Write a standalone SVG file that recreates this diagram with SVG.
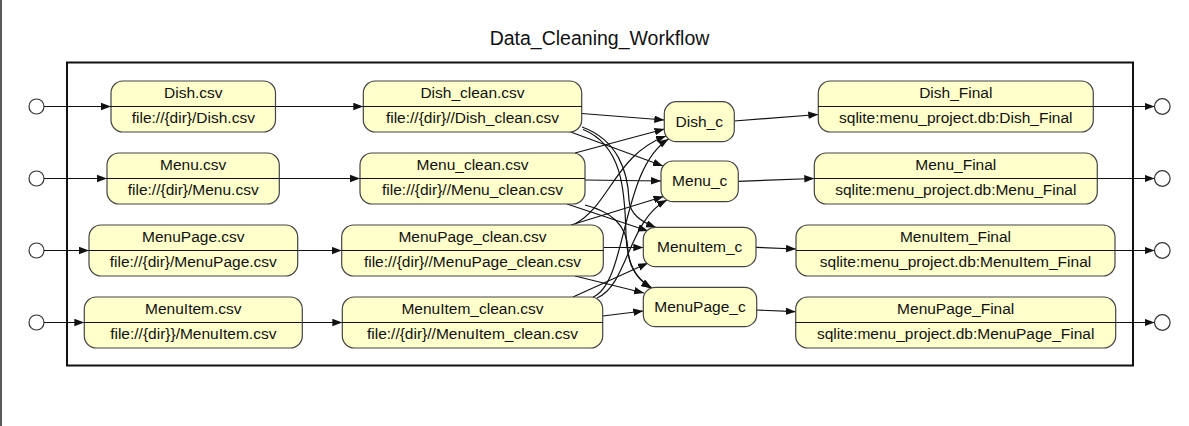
<svg xmlns="http://www.w3.org/2000/svg" width="1189" height="426" viewBox="0 0 1189 426">
<style>
.bg{fill:#ffffff}
.frame{fill:none;stroke:#111;stroke-width:2}
.n{fill:#ffffcc;stroke:#444;stroke-width:1.2}
.div{stroke:#111;stroke-width:1.2}
.t{font-family:"Liberation Sans",Arial,sans-serif;font-size:15.5px;fill:#111;text-anchor:middle}
.title{font-family:"Liberation Sans",Arial,sans-serif;font-size:19.5px;fill:#111;text-anchor:middle}
.e{fill:none;stroke:#111;stroke-width:1.2;marker-end:url(#ah)}
.port{fill:#fff;stroke:#333;stroke-width:1.2}
</style>
<defs>
<marker id="ah" markerUnits="userSpaceOnUse" markerWidth="11" markerHeight="8" refX="10" refY="3.75" orient="auto">
<path d="M0,0 L10,3.75 L0,7.5 z" fill="#111"/>
</marker>
</defs>
<rect class="bg" x="0" y="0" width="1189" height="426"/>
<line x1="1" y1="0" x2="1" y2="426" stroke="#222" stroke-width="1.5"/>
<text class="title" x="599.5" y="45">Data_Cleaning_Workflow</text>
<rect class="frame" x="67" y="62.5" width="1066" height="303"/>

<g id="connectors">
<path class="e" d="M44,106.5 H111"/>
<path class="e" d="M44,178.5 H107"/>
<path class="e" d="M44,250.5 H89"/>
<path class="e" d="M44,322.5 H84.3"/>
<path class="e" d="M275.5,106.5 H363.3"/>
<path class="e" d="M279.3,178.5 H360"/>
<path class="e" d="M297.7,250.5 H341.7"/>
<path class="e" d="M302.3,322.5 H342.3"/>
<path class="e" d="M581.7,113.5 L664.3,120"/>
<path class="e" d="M570,131.7 L663,166"/>
<path class="e" d="M582,127 C618,140 628,172 629,200 C630,215 642,222 656,227.5"/>
<path class="e" d="M583,129.5 C622,145 625,190 626,235 C627,265 636,278 651,288.5"/>
<path class="e" d="M575,153 L664.5,129"/>
<path class="e" d="M585,180 L661,181"/>
<path class="e" d="M567,204 L648,231"/>
<path class="e" d="M585,205 C612,212 627,225 628,250 C629,268 638,280 652,288"/>
<path class="e" d="M575,224 C610,205 615,155 666,136"/>
<path class="e" d="M571,225 L663.5,196.5"/>
<path class="e" d="M603.3,247.5 L643.3,247.5"/>
<path class="e" d="M575,276 L644,293"/>
<path class="e" d="M593,297 C628,282 620,170 668.5,139"/>
<path class="e" d="M597,298 C628,285 628,220 667,200"/>
<path class="e" d="M573,297 L648,263"/>
<path class="e" d="M602.7,316 L643.3,311"/>
<path class="e" d="M734.3,121 L818.3,114.5"/>
<path class="e" d="M738.3,181.3 L814.3,178.5"/>
<path class="e" d="M756,247.3 L796,249"/>
<path class="e" d="M756.7,310 L795.7,311.7"/>
<path class="e" d="M1093.3,106.5 H1154.5"/>
<path class="e" d="M1097.3,178.5 H1154.5"/>
<path class="e" d="M1115,250.5 H1154.5"/>
<path class="e" d="M1115.7,322.5 H1154.5"/>
</g>

<g id="in_dish"><circle class="port" cx="36.5" cy="106.5" r="7.5"/></g>
<g id="in_menu"><circle class="port" cx="36.5" cy="178.5" r="7.5"/></g>
<g id="in_menupage"><circle class="port" cx="36.5" cy="250.5" r="7.5"/></g>
<g id="in_menuitem"><circle class="port" cx="36.5" cy="322.5" r="7.5"/></g>

<g id="Dish_csv"><rect class="n" x="111" y="81" width="164.5" height="51" rx="12"/><line class="div" x1="111" y1="106.5" x2="275.5" y2="106.5"/><text class="t" x="193.3" y="98">Dish.csv</text><text class="t" x="193.3" y="122.7">file://{dir}/Dish.csv</text></g>
<g id="Menu_csv"><rect class="n" x="107" y="153" width="172.3" height="51" rx="12"/><line class="div" x1="107" y1="178.5" x2="279.3" y2="178.5"/><text class="t" x="193.2" y="170">Menu.csv</text><text class="t" x="193.2" y="194.7">file://{dir}/Menu.csv</text></g>
<g id="MenuPage_csv"><rect class="n" x="89" y="225" width="208.7" height="51" rx="12"/><line class="div" x1="89" y1="250.5" x2="297.7" y2="250.5"/><text class="t" x="193.3" y="242">MenuPage.csv</text><text class="t" x="193.3" y="266.7">file://{dir}/MenuPage.csv</text></g>
<g id="MenuItem_csv"><rect class="n" x="84.3" y="297" width="218" height="51" rx="12"/><line class="div" x1="84.3" y1="322.5" x2="302.3" y2="322.5"/><text class="t" x="193.3" y="314">MenuItem.csv</text><text class="t" x="193.3" y="338.7">file://{dir}}/MenuItem.csv</text></g>

<g id="Dish_clean_csv"><rect class="n" x="363.3" y="81" width="218.4" height="51" rx="12"/><line class="div" x1="363.3" y1="106.5" x2="581.7" y2="106.5"/><text class="t" x="472.5" y="98">Dish_clean.csv</text><text class="t" x="472.5" y="122.7">file://{dir}//Dish_clean.csv</text></g>
<g id="Menu_clean_csv"><rect class="n" x="360" y="153" width="225" height="51" rx="12"/><line class="div" x1="360" y1="178.5" x2="585" y2="178.5"/><text class="t" x="472.5" y="170">Menu_clean.csv</text><text class="t" x="472.5" y="194.7">file://{dir}//Menu_clean.csv</text></g>
<g id="MenuPage_clean_csv"><rect class="n" x="341.7" y="225" width="261.6" height="51" rx="12"/><line class="div" x1="341.7" y1="250.5" x2="603.3" y2="250.5"/><text class="t" x="472.5" y="242">MenuPage_clean.csv</text><text class="t" x="472.5" y="266.7">file://{dir}//MenuPage_clean.csv</text></g>
<g id="MenuItem_clean_csv"><rect class="n" x="342.3" y="297" width="260.4" height="51" rx="12"/><line class="div" x1="342.3" y1="322.5" x2="602.7" y2="322.5"/><text class="t" x="472.5" y="314">MenuItem_clean.csv</text><text class="t" x="472.5" y="338.7">file://{dir}//MenuItem_clean.csv</text></g>

<g id="Dish_c"><rect class="n" x="664.3" y="101.7" width="70" height="40" rx="12"/><text class="t" x="699.3" y="126.5">Dish_c</text></g>
<g id="Menu_c"><rect class="n" x="661" y="161" width="77.3" height="40.7" rx="12"/><text class="t" x="699.7" y="186.2">Menu_c</text></g>
<g id="MenuItem_c"><rect class="n" x="643.3" y="227.3" width="112.7" height="39.4" rx="12"/><text class="t" x="699.7" y="252">MenuItem_c</text></g>
<g id="MenuPage_c"><rect class="n" x="643.3" y="287.3" width="113.4" height="39.4" rx="12"/><text class="t" x="700" y="312">MenuPage_c</text></g>

<g id="Dish_Final"><rect class="n" x="818.3" y="81" width="275" height="51" rx="12"/><line class="div" x1="818.3" y1="106.5" x2="1093.3" y2="106.5"/><text class="t" x="955.8" y="98">Dish_Final</text><text class="t" x="955.8" y="122.7">sqlite:menu_project.db:Dish_Final</text></g>
<g id="Menu_Final"><rect class="n" x="814.3" y="153" width="283" height="51" rx="12"/><line class="div" x1="814.3" y1="178.5" x2="1097.3" y2="178.5"/><text class="t" x="955.8" y="170">Menu_Final</text><text class="t" x="955.8" y="194.7">sqlite:menu_project.db:Menu_Final</text></g>
<g id="MenuItem_Final"><rect class="n" x="796" y="225" width="319" height="51" rx="12"/><line class="div" x1="796" y1="250.5" x2="1115" y2="250.5"/><text class="t" x="955.5" y="242">MenuItem_Final</text><text class="t" x="955.5" y="266.7">sqlite:menu_project.db:MenuItem_Final</text></g>
<g id="MenuPage_Final"><rect class="n" x="795.7" y="297" width="320" height="51" rx="12"/><line class="div" x1="795.7" y1="322.5" x2="1115.7" y2="322.5"/><text class="t" x="955.7" y="314">MenuPage_Final</text><text class="t" x="955.7" y="338.7">sqlite:menu_project.db:MenuPage_Final</text></g>

<g id="out_dish"><circle class="port" cx="1162.3" cy="106.5" r="7.8"/></g>
<g id="out_menu"><circle class="port" cx="1162.3" cy="178.5" r="7.8"/></g>
<g id="out_menuitem"><circle class="port" cx="1162.3" cy="250.5" r="7.8"/></g>
<g id="out_menupage"><circle class="port" cx="1162.3" cy="322.5" r="7.8"/></g>
</svg>
